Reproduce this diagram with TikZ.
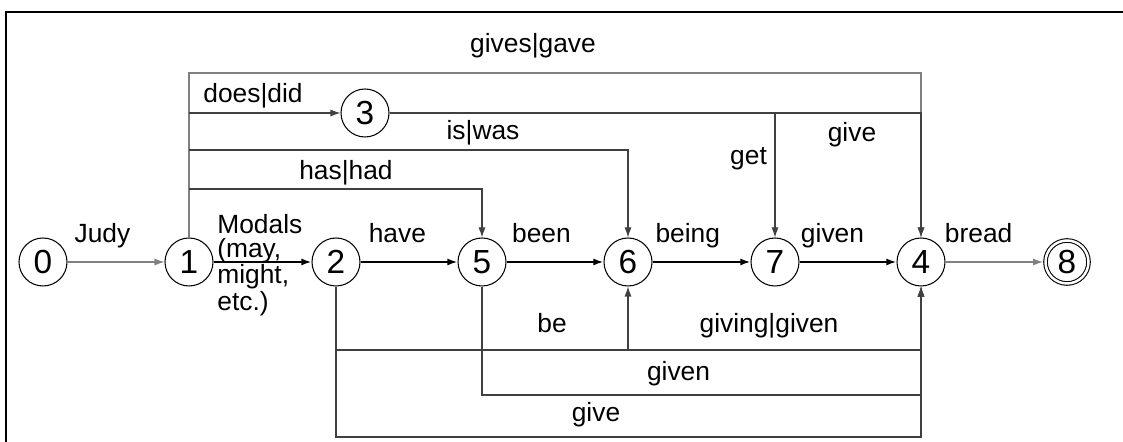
\documentclass[tikz,border=0pt]{standalone}
\usepackage{fontspec}
\setmainfont{Liberation Sans}
\usetikzlibrary{calc}
\usetikzlibrary{arrows.meta}

\begin{document}
\begin{tikzpicture}[
	st/.style={circle, draw, line width=0.6pt, minimum size=0.96cm, inner sep=0pt, font=\fontsize{19}{19}\selectfont},
	lbl/.style={inner sep=0pt, font=\fontsize{15}{15}\selectfont},
	arr/.style={-{Latex[length=0.2cm,width=0.14cm]}},
	ln/.style={draw=black!75, line width=0.6pt},
	lt/.style={draw=black!50, line width=0.6pt},
	mn/.style={draw=black, line width=1.1pt}]
	\useasboundingbox (0,0) rectangle (22.46,8.84);
	\draw[line width=0.7pt] (22.46,8.6) -- (0.12,8.6) -- (0.12,0);
	% states
	\node[st] (0) at (0.86,3.6){0};
	\node[st] (1) at (3.78,3.6){1};
	\node[st] (2) at (6.72,3.6){2};
	\node[st] (3) at (7.3,6.58){3};
	\node[st] (5) at (9.64,3.6){5};
	\node[st] (6) at (12.56,3.6){6};
	\node[st] (7) at (15.5,3.6){7};
	\node[st] (4) at (18.42,3.6){4};
	\node[st, double, double distance=0.05cm, minimum size=0.86cm, outer sep=0.05cm] (8) at (21.34,3.6){8};
	% track levels
	\coordinate (lvtop) at (0,7.38);
	\coordinate (lvis) at (0,5.84);
	\coordinate (lvhas) at (0,5.06);
	\coordinate (lvbe) at (0,1.84);
	\coordinate (lvgiven) at (0,0.94);
	\coordinate (lvgive) at (0,0.1);
	% main chain
	\draw[lt, arr] (0) -- node[lbl, pos=.36, anchor=base, yshift=0.38cm] (ljudy) {Judy} (1);
	\draw[mn, arr] (1) -- (2);
	\draw[mn, arr] (2) -- node[lbl, pos=.38, anchor=base, yshift=0.38cm] (lhave) {have} (5);
	\draw[mn, arr] (5) -- node[lbl, pos=.36, anchor=base, yshift=0.38cm] (lbeen) {been} (6);
	\draw[mn, arr] (6) -- node[lbl, pos=.36, anchor=base, yshift=0.38cm] (lbeing) {being} (7);
	\draw[mn, arr] (7) -- node[lbl, pos=.34, anchor=base, yshift=0.38cm] (lgiven) {given} (4);
	\draw[lt, arr] (4) -- node[lbl, pos=.34, anchor=base, yshift=0.38cm] (lbread) {bread} (8);
	\node[lbl, align=left, anchor=north west, font=\fontsize{15}{13.7}\selectfont] (lmod) at (4.34,4.56) {Modals\\(may,\\might,\\etc.)};
	% upper paths
	\draw[lt, arr] (1) |- (lvtop -| 4) -- (4);
	\draw[ln, arr] (1 |- 3) -- (3);
	\draw[ln, arr] (3) -- (3 -| 4) -- (4);
	\draw[ln, arr] (3 -| 7) -- (7);
	\draw[ln, arr] (lvis -| 1) -- (lvis -| 6) -- (6);
	\draw[ln, arr] (lvhas -| 1) -- (lvhas -| 5) -- (5);
	\node[lbl, anchor=base] (lgives) at (10.66,7.78){gives|gave};
	\node[lbl, anchor=base] (ldoes) at (5.06,6.78){does|did};
	\node[lbl, anchor=base] (lis) at (9.66,6.04){is|was};
	\node[lbl, anchor=base] (lhas) at (6.92,5.24){has|had};
	\node[lbl, anchor=base] (lget) at (14.97,5.54){get};
	\node[lbl, anchor=base] (lgive3) at (17.04,6.0){give};
	% lower paths
	\draw[ln, arr] (2) -- (lvgive -| 2) -- (lvgive -| 4) -- (4);
	\draw[ln, arr] (lvbe -| 2) -- (lvbe -| 6) -- (6);
	\draw[ln, arr] (lvbe -| 6) -- (lvbe -| 4) -- (4);
	\draw[ln, arr] (5) -- (lvgiven -| 5) -- (lvgiven -| 4) -- (4);
	\node[lbl, anchor=base] (lbe) at (11.04,2.18){be};
	\node[lbl, anchor=base] (lgiving) at (15.38,2.18){giving|given};
	\node[lbl, anchor=base] (lgiven5) at (13.57,1.22){given};
	\node[lbl, anchor=base] (lgive2) at (11.92,0.4){give};
\end{tikzpicture}
\end{document}
